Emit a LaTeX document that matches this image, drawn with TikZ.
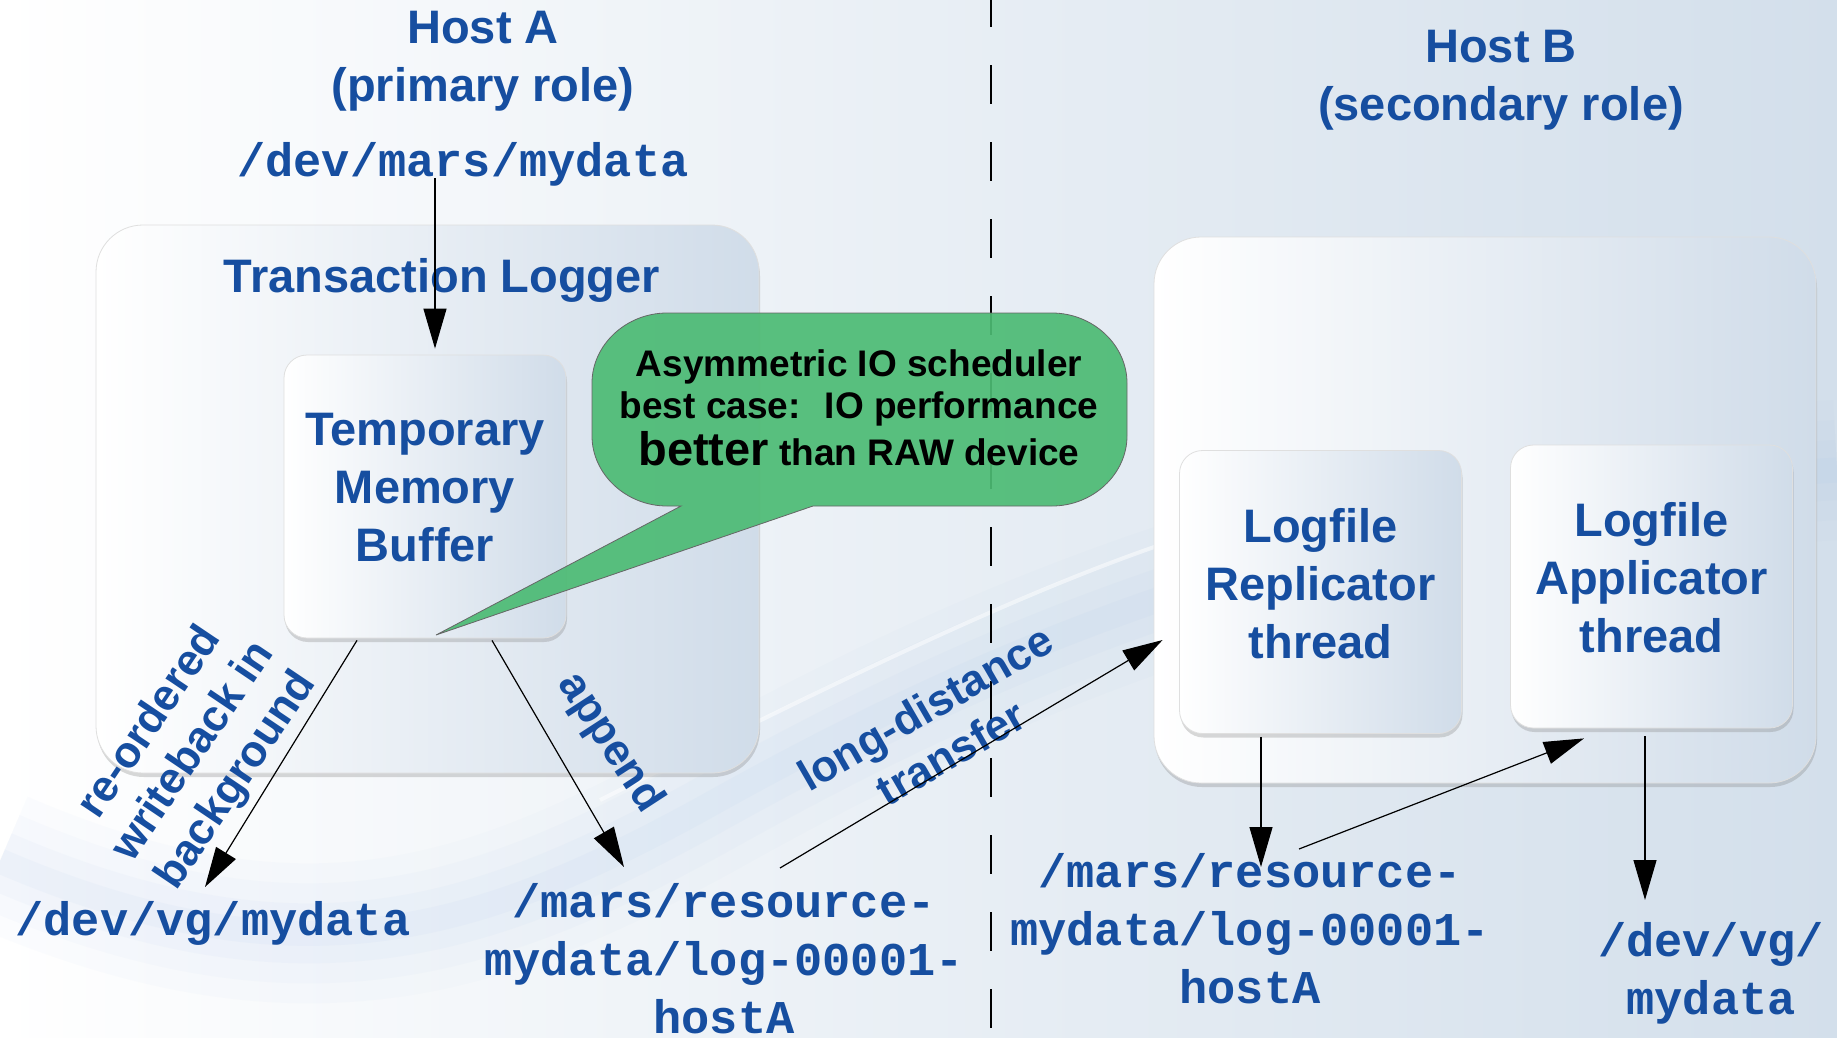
\documentclass[tikz,border=0pt]{standalone}
\usepackage{fontspec}
\setmainfont{Liberation Sans}
\newfontfamily\pathfont{Liberation Mono}
\usepackage{tikz}
\usetikzlibrary{calc, positioning, shadows, arrows.meta}
\definecolor{hostblue}{RGB}{22, 78, 160}
\definecolor{bgblue}{RGB}{211, 223, 235}
\definecolor{bgmid}{RGB}{227, 235, 244}
\definecolor{boxblue}{RGB}{208, 220, 233}
\definecolor{boxmid}{RGB}{222, 231, 241}
\definecolor{swoosh}{RGB}{150, 185, 232}
\definecolor{calloutgreen}{RGB}{76, 187, 116}
\tikzset{
    boxnode/.style = {rectangle, draw=gray!25, line width=0.8pt, rounded corners=47pt, left color=white,
      middle color=boxmid, right color=boxblue, drop shadow={shadow xshift=1pt, shadow yshift=-4pt, opacity=0.3}},
    threadnode/.style = {boxnode, rounded corners=23pt, minimum width=282pt, minimum height=283pt, inner sep=0pt,
      text=hostblue, font=\bfseries\fontsize{47}{58}\selectfont, execute at end node=\strut},
    titlenode/.style = {draw=none, fill=none, rectangle, inner sep=0em, text=hostblue,
      font=\bfseries\fontsize{47}{58}\selectfont},
    pathnode/.style = {draw=none, fill=none, rectangle, inner sep=0em, text=hostblue,
      font=\pathfont\bfseries\fontsize{47}{58}\selectfont},
    labelnode/.style = {draw=none, fill=none, rectangle, inner sep=0em, text=hostblue,
      font=\bfseries\fontsize{44}{52}\selectfont},
    notenode/.style = {draw=none, fill=none, rectangle, inner sep=0em, font=\bfseries\fontsize{37}{42}\selectfont},
    bubble/.style = {draw=gray!80!black, line width=0.8pt, fill=calloutgreen, fill opacity=0.92},
    divider/.style = {black, line width=1.2pt, dash pattern=on 39pt off 38pt, dash phase=12pt},
    connect/.style = {black, line width=1.2pt, -{Triangle[length=40pt, width=23pt]}},
    every text node part/.style={align=center}
}

\begin{document}
\begin{tikzpicture}[x=1pt, y=-1pt]
\useasboundingbox (0,0) rectangle (1837,1037);
\fill [left color=white, middle color=bgmid, right color=bgblue] (0,0) rectangle (1837,1037);
\foreach \w/\o in {140/0.03, 100/0.04, 60/0.05, 25/0.06}
  \draw [line width=\w pt, swoosh, opacity=\o] (0,861) .. controls (300,990) and (480,930) .. (700,810)
      .. controls (950,670) and (1300,500) .. (1837,470);
\draw [line width=4pt, white, opacity=0.5] (600,800) .. controls (800,700) and (1000,600) .. (1160,545);

\coordinate (divtop) at (991,0);
\coordinate (divbot) at (991,1037);
\draw [divider] (divtop) -- (divbot);

\node [titlenode, name=hosta] at (483,61) {Host A\\(primary role)};
\node [titlenode, name=hostb] at (1501,80) {Host B\\(secondary role)};
\node [pathnode, name=devmars] at (463,164) {/dev/mars/mydata};

\node [boxnode, name=tlbox, minimum width=663pt, minimum height=548pt] at (427.5,499) {};
\node [titlenode, name=tllabel, below of=tlbox, node distance=0em, xshift=14.5pt, yshift=219pt] {Transaction Logger};
\node [threadnode, name=tmb] at (425,496.5) {Temporary\\Memory\\Buffer};

\node [boxnode, name=hbbox, minimum width=662pt, minimum height=546pt] at (1485,510) {};
\node [threadnode, name=rep] at (1320.5,592) {Logfile\\Replicator\\thread};
\node [threadnode, name=app, right of=rep, node distance=0em, xshift=331pt, yshift=5.5pt] {Logfile\\Applicator\\thread};

\draw [bubble] (681,506) -- (667,506) .. controls (626,506) and (592,474) .. (592,436) -- (592,383)
    .. controls (592,345) and (626,313) .. (667,313) -- (1052,313) .. controls (1093,313) and (1127,345) .. (1127,383)
    -- (1127,436) .. controls (1127,474) and (1093,506) .. (1052,506) -- (813,506) -- (436,635) -- cycle;
\node [notenode, name=note] at (859,408) {Asymmetric IO scheduler\\best case: \ IO performance\\[5pt]
    {\fontsize{47}{42}\selectfont better} than RAW device};

\node [pathnode, name=vga] at (213,923) {/dev/vg/mydata};
\node [pathnode, name=loga] at (724,959) {/mars/resource-\\mydata/log-00001-\\hostA};
\node [pathnode, name=logb] at (1250,929) {/mars/resource-\\mydata/log-00001-\\hostA};
\node [pathnode, name=vgb] at (1711,973) {/dev/vg/\\mydata};

\node [labelnode, name=wblabel, rotate=56] at (194,752) {re-ordered\\writeback in\\background};
\node [labelnode, name=aplabel, rotate=-57] at (610,743) {append};
\node [labelnode, name=ldlabel, rotate=30] at (938,730) {long-distance\\transfer};

\coordinate (mdtop) at (435,178);
\coordinate (wbtip) at (205,887);
\coordinate (aptip) at (624,867);
\coordinate (ldstart) at (780,868);
\coordinate (reptip) at (1261,867);
\coordinate (logbstart) at (1299,849);
\coordinate (vgbtip) at (1645,900);

\draw [connect] (mdtop) -- ($(tmb.north)+(10,-6)$);
\draw [connect] ($(tmb.south)+(-68,2)$) -- (wbtip);
\draw [connect] ($(tmb.south)+(67,2)$) -- (aptip);
\draw [connect] (ldstart) -- ($(hbbox.west)+(9,130)$);
\draw [connect] ($(rep.south)+(-59.5,3)$) -- (reptip);
\draw [connect] (logbstart) -- ($(app.south)+(-67.5,10)$);
\draw [connect] ($(app.south)+(-6.5,8)$) -- (vgbtip);
\end{tikzpicture}
\end{document}
